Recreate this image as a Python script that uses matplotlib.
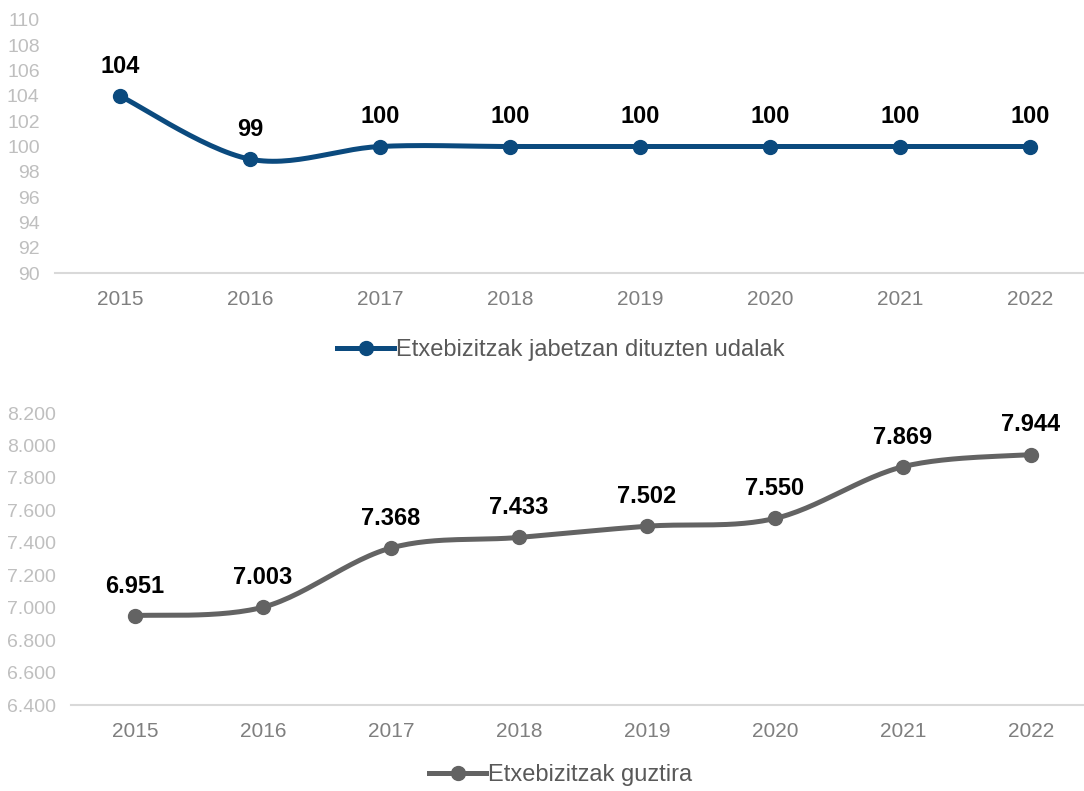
import matplotlib
matplotlib.use('Agg')
from matplotlib import pyplot as plt
from matplotlib.ticker import FuncFormatter
import numpy as np

plt.rcParams['font.family'] = ['Liberation Sans', 'DejaVu Sans']

years = ['2015', '2016', '2017', '2018', '2019', '2020', '2021', '2022']
udalak = [104, 99, 100, 100, 100, 100, 100, 100]
guztira = [6951, 7003, 7368, 7433, 7502, 7550, 7869, 7944]

label_udalak = 'Etxebizitzak jabetzan dituzten udalak'
label_guztira = 'Etxebizitzak guztira'


def smooth(xs, ys, n=30):
    # Catmull-Rom curve, like the smoothed line of a spreadsheet chart
    xs, ys = np.asarray(xs, float), np.asarray(ys, float)
    px = np.concatenate([[xs[0]], xs, [xs[-1]]])
    py = np.concatenate([[ys[0]], ys, [ys[-1]]])
    out_x, out_y = [], []
    t = np.linspace(0, 1, n)
    for i in range(1, len(px) - 2):
        for p, out in ((px, out_x), (py, out_y)):
            p0, p1, p2, p3 = p[i - 1], p[i], p[i + 1], p[i + 2]
            c1 = p1 + (p2 - p0) / 6
            c2 = p2 - (p3 - p1) / 6
            out.extend((1 - t) ** 3 * p1 + 3 * (1 - t) ** 2 * t * c1 + 3 * (1 - t) * t ** 2 * c2 + t ** 3 * p2)
    return np.array(out_x), np.array(out_y)


def thousands(v, pos=None):
    return f'{int(round(v)):,}'.replace(',', '.')


W, H = 1084, 791
fig = plt.figure(figsize=(W / 100, H / 100), dpi=100)

ax1 = fig.add_axes([55 / W, (H - 273) / H, 1040 / W, 253 / H])
ax2 = fig.add_axes([71 / W, (H - 705) / H, 1024 / W, 292 / H])

setups = [
    (ax1, udalak, '#0b4a7e', label_udalak, (90, 110), np.arange(90, 111, 2), str, (561, 350)),
    (ax2, guztira, '#636363', label_guztira, (6400, 8200), np.arange(6400, 8201, 200), thousands, (561, 775)),
]

for ax, vals, color, label, ylim, yticks, fmt, leg_pos in setups:
    x = np.arange(len(years))
    sx, sy = smooth(x, vals)
    ax.plot(sx, sy, color=color, lw=3.6, solid_capstyle='round', zorder=3)
    ax.plot(x, vals, 'o', color=color, ms=10, zorder=4)
    ax.set_xlim(-0.5, len(years) - 0.5)
    ax.set_ylim(*ylim)
    ax.set_yticks(yticks)
    ax.yaxis.set_major_formatter(FuncFormatter(lambda v, p, f=fmt: f(int(round(v)))))
    ax.set_xticks(x)
    ax.set_xticklabels(years)
    ax.tick_params(axis='y', length=0, pad=11, labelsize=14, labelcolor='#bfbfbf')
    ax.tick_params(axis='x', length=0, pad=12, labelsize=15, labelcolor='#7f7f7f')
    for s in ['top', 'right', 'left']:
        ax.spines[s].set_visible(False)
    ax.spines['bottom'].set_color('#d9d9d9')
    ax.spines['bottom'].set_linewidth(1.5)
    for xi, v in zip(x, vals):
        ax.annotate(fmt(v), (xi, v), xytext=(0, 13), textcoords='offset points',
                    ha='center', va='bottom', fontsize=17, fontweight='bold', color='black')
    h, = ax.plot([], [], '-o', color=color, lw=3.6, ms=10, label=label)
    fig.legend(handles=[h], loc='center', bbox_to_anchor=(leg_pos[0] / W, 1 - leg_pos[1] / H),
               frameon=False, fontsize=17, labelcolor='#595959', handlelength=2.4,
               handletextpad=0.1)

fig.savefig('out.png', dpi=100)
